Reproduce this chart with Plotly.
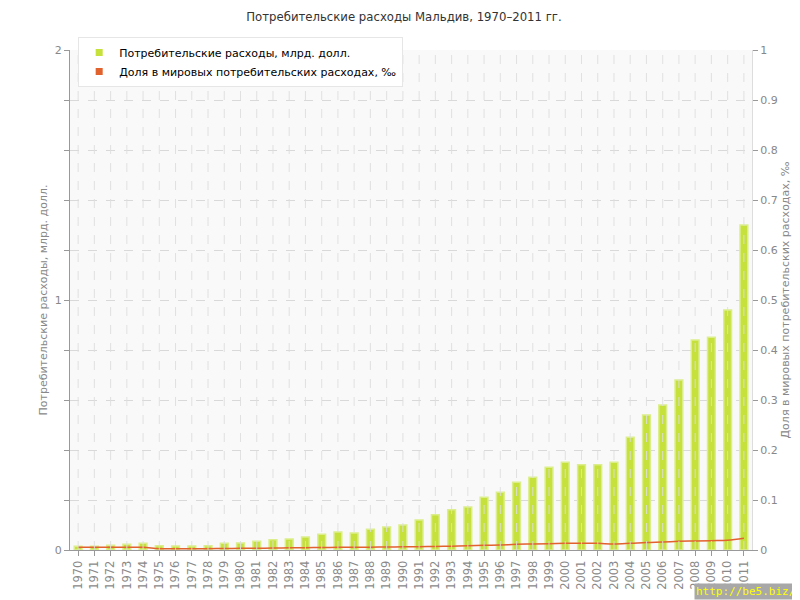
import plotly.graph_objects as go

years = list(range(1970, 2012))
spending = [0.015, 0.015, 0.019, 0.023, 0.027, 0.017, 0.016, 0.016, 0.017, 0.027,
            0.028, 0.035, 0.041, 0.044, 0.052, 0.063, 0.072, 0.068, 0.083, 0.092,
            0.100, 0.120, 0.141, 0.161, 0.172, 0.211, 0.231, 0.271, 0.291, 0.331,
            0.351, 0.341, 0.341, 0.351, 0.451, 0.540, 0.580, 0.680, 0.840, 0.851,
            0.960, 1.300]
share = [0.0053, 0.0053, 0.0053, 0.0053, 0.0053, 0.0027, 0.0027, 0.0027, 0.0027, 0.0030,
         0.0033, 0.0035, 0.0040, 0.0043, 0.0047, 0.0050, 0.0053, 0.0053, 0.0057, 0.0060,
         0.0063, 0.0067, 0.0070, 0.0077, 0.0083, 0.0093, 0.0100, 0.0113, 0.0120, 0.0127,
         0.0133, 0.0133, 0.0133, 0.0120, 0.0133, 0.0150, 0.0160, 0.0173, 0.0180, 0.0187,
         0.0193, 0.0233]
year_labels = [str(y) for y in years]

title = "Потребительские расходы Мальдив, 1970–2011 гг."
name_bar = "Потребительские расходы, млрд. долл."
name_line = "Доля в мировых потребительских расходах, ‰"

left_ticks = [round(i * 0.2, 1) for i in range(11)]
left_text = ["0" if v == 0 else ("1" if v == 1 else ("2" if v == 2 else "")) for v in left_ticks]
right_ticks = [round(i * 0.1, 1) for i in range(11)]
right_text = ["0" if v == 0 else ("1" if v == 1 else f"{v:g}") for v in right_ticks]

BAR_COLOR = "#c6e03c"
LINE_COLOR = "#e2622e"

fig = go.Figure()
fig.add_trace(go.Bar(
    x=years, y=spending, name=name_bar, showlegend=False,
    marker=dict(color=BAR_COLOR, line=dict(color="#dcee8c", width=1.5)),
    width=0.48,
))
fig.add_trace(go.Scatter(
    x=years, y=share, name=name_line, yaxis="y2", mode="lines", showlegend=False,
    line=dict(color=LINE_COLOR, width=1.5, shape="spline"),
))
# legend entries with square markers
fig.add_trace(go.Scatter(x=[None], y=[None], mode="markers", name=name_bar,
                         marker=dict(symbol="square", size=7, color=BAR_COLOR)))
fig.add_trace(go.Scatter(x=[None], y=[None], mode="markers", name=name_line,
                         marker=dict(symbol="square", size=7, color=LINE_COLOR)))

shapes = []
for y in years:
    shapes.append(dict(type="line", xref="x", yref="paper", x0=y, x1=y, y0=0, y1=1,
                       line=dict(color="rgba(222,222,222,0.9)", width=1, dash="dash"),
                       layer="above"))

# page has an 8px body margin; figure is 792x592 so it ends at the window edge
fig.update_layout(
    width=792, height=592,
    margin=dict(l=62, r=48, t=42, b=50, autoexpand=False),
    paper_bgcolor="white",
    plot_bgcolor="#f9f9f9",
    font=dict(family="DejaVu Sans", size=11, color="#888"),
    title=dict(text=title, x=0.5, xanchor="center", y=0.985, yanchor="middle",
               font=dict(family="DejaVu Sans Condensed", size=13, color="#333")),
    showlegend=True,
    legend=dict(x=0.012, y=1.026, xanchor="left", yanchor="top",
                bgcolor="white", bordercolor="#e6e6e6", borderwidth=1,
                font=dict(family="DejaVu Sans", size=11, color="#000"),
                tracegroupgap=0, itemwidth=30),
    shapes=shapes,
    xaxis=dict(range=[1969.5, 2011.5], tickvals=years, ticktext=year_labels,
               tickangle=-90, showgrid=False,
               ticks="outside", ticklen=5, tickcolor="#999",
               showline=True, linecolor="#999", linewidth=1, zeroline=False,
               tickfont=dict(size=11.5, color="#8a8a8a")),
    yaxis=dict(range=[0, 2], tickvals=left_ticks, ticktext=left_text,
               ticks="outside", ticklen=5, tickcolor="#999",
               showline=True, linecolor="#999", linewidth=1,
               showgrid=True, gridcolor="#d9d9d9", griddash="dash", zeroline=False,
               title=dict(text="Потребительские расходы, млрд. долл.", font=dict(size=11, color="#888"), standoff=4)),
    yaxis2=dict(range=[0, 1], overlaying="y", side="right", tickvals=right_ticks, ticktext=right_text,
                ticks="outside", ticklen=5, tickcolor="#999",
                showline=True, linecolor="#ddd", linewidth=1,
                showgrid=False, zeroline=False,
                title=dict(text=name_line, font=dict(size=11, color="#888"), standoff=4)),
    annotations=[dict(text="http://be5.biz/", xref="paper", yref="paper", x=1.066, y=-0.1,
                      xanchor="right", yanchor="bottom", showarrow=False,
                      font=dict(family="DejaVu Sans Mono", size=11, color="#ffff00"),
                      bgcolor="#a8a8a8", borderpad=1)],
)

fig.write_html("out.html")
